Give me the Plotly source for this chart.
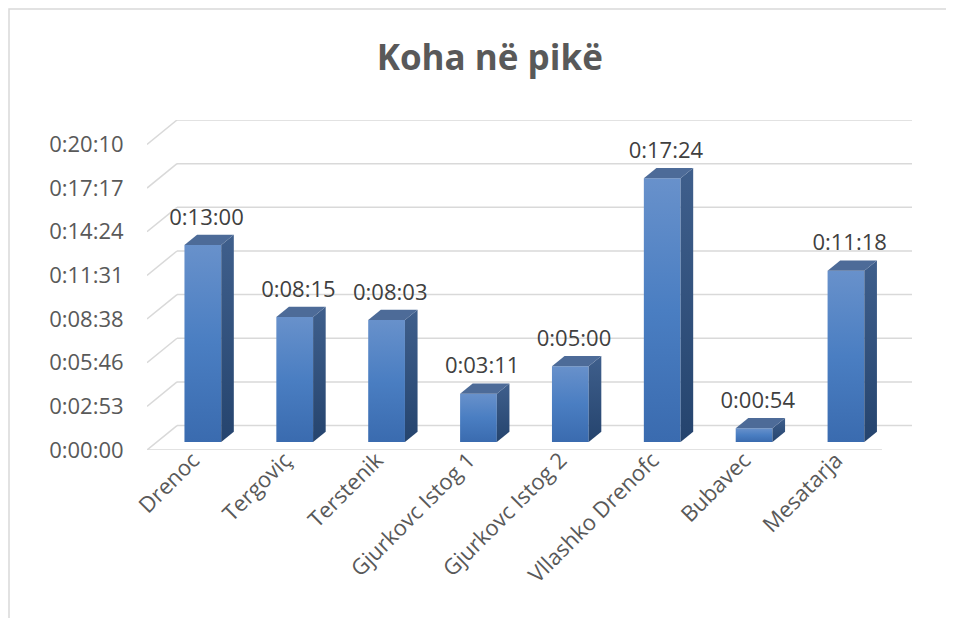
import plotly.graph_objects as go

# Data
categories = ['Drenoc', 'Tergoviç', 'Terstenik', 'Gjurkovc Istog 1',
              'Gjurkovc Istog 2', 'Vllashko Drenofc', 'Bubavec', 'Mesatarja']
time_labels = ['0:13:00', '0:08:15', '0:08:03', '0:03:11',
               '0:05:00', '0:17:24', '0:00:54', '0:11:18']
tick_labels = ['0:00:00', '0:02:53', '0:05:46', '0:08:38',
               '0:11:31', '0:14:24', '0:17:17', '0:20:10']
tick_step_days = 0.002


def to_seconds(s):
    h, m, sec = s.split(':')
    return int(h) * 3600 + int(m) * 60 + int(sec)


seconds = [to_seconds(t) for t in time_labels]
tick_vals = [i * tick_step_days * 86400 for i in range(len(tick_labels))]

# Fake 3D geometry (depth offset of the back wall, in axis units)
DX = 0.3266
DY = 96.7
F1, F2 = 0.33, 0.75      # front / back depth of bars
W = 0.40                 # bar width
GRID = '#D9D9D9'
FONT = 'Open Sans'

fig = go.Figure()

# Bars: front face, side face, top face
for i, v in enumerate(seconds):
    x0 = i - W / 2 + F1 * DX
    x1 = x0 + W
    yb = F1 * DY
    yt = v + F1 * DY
    ddx = (F2 - F1) * DX
    ddy = (F2 - F1) * DY

    fig.add_trace(go.Scatter(
        x=[x0, x1, x1, x0, x0], y=[yb, yb, yt, yt, yb],
        fill='toself', mode='lines', line=dict(width=0),
        fillgradient=dict(type='vertical',
                          colorscale=[[0, '#3A6BAF'], [0.5, '#4A7EC2'], [1, '#6891CB']]),
        hoverinfo='skip', showlegend=False
    ))
    fig.add_trace(go.Scatter(
        x=[x1, x1 + ddx, x1 + ddx, x1, x1], y=[yb, yb + ddy, yt + ddy, yt, yb],
        fill='toself', mode='lines', line=dict(width=0),
        fillgradient=dict(type='vertical',
                          colorscale=[[0, '#25446E'], [1, '#3F5F8C']]),
        hoverinfo='skip', showlegend=False
    ))
    fig.add_trace(go.Scatter(
        x=[x0, x1, x1 + ddx, x0 + ddx, x0], y=[yt, yt, yt + ddy, yt + ddy, yt],
        fill='toself', mode='lines', line=dict(width=0),
        fillcolor='#4D6B98',
        hoverinfo='skip', showlegend=False
    ))

# Data labels
fig.add_trace(go.Scatter(
    x=[i + F1 * DX + 0.04 for i in range(len(categories))],
    y=[v + F2 * DY + 18 for v in seconds],
    mode='text', text=time_labels, textposition='top center',
    textfont=dict(family=FONT, size=22, color='#404040'),
    hoverinfo='skip', showlegend=False
))

# Back wall gridlines + left diagonals + floor front edge
n = len(categories)
for v in tick_vals:
    fig.add_shape(type='line', x0=-0.5 + DX, x1=n - 0.5 + DX, y0=v + DY, y1=v + DY,
                  line=dict(color=GRID, width=1.5), layer='below')
    fig.add_shape(type='line', x0=-0.5, x1=-0.5 + DX, y0=v, y1=v + DY,
                  line=dict(color=GRID, width=1.5), layer='below')
fig.add_shape(type='line', x0=-0.5, x1=n - 0.5, y0=0, y1=0,
              line=dict(color=GRID, width=1.5), layer='below')

# Chart border
fig.add_shape(type='rect', xref='paper', yref='paper',
              x0=-0.1804, x1=1.1, y0=-0.6, y1=1.336,
              line=dict(color='#D9D9D9', width=1.5), layer='below')

fig.update_layout(
    title=dict(text='<b>Koha në pikë</b>', x=0.505, xref='container', xanchor='center',
               y=0.919, yref='container', yanchor='middle',
               font=dict(family=FONT, size=35, color='#595959')),
    xaxis=dict(
        range=[-0.5, n - 0.5 + DX],
        tickvals=list(range(n)), ticktext=categories, tickangle=-45,
        tickfont=dict(family=FONT, size=22, color='#595959'),
        showgrid=False, zeroline=False, showline=False,
        ticks='', ticklabelstandoff=-8
    ),
    yaxis=dict(
        range=[0, tick_vals[-1] + DY],
        tickvals=tick_vals, ticktext=tick_labels,
        tickfont=dict(family=FONT, size=22, color='#595959'),
        showgrid=False, zeroline=False, showline=False,
        ticks='outside', ticklen=18, tickcolor='rgba(0,0,0,0)'
    ),
    width=954, height=618,
    margin=dict(l=139, r=50, t=112, b=176),
    plot_bgcolor='white', paper_bgcolor='white',
    showlegend=False
)

fig.write_html("out.html")
